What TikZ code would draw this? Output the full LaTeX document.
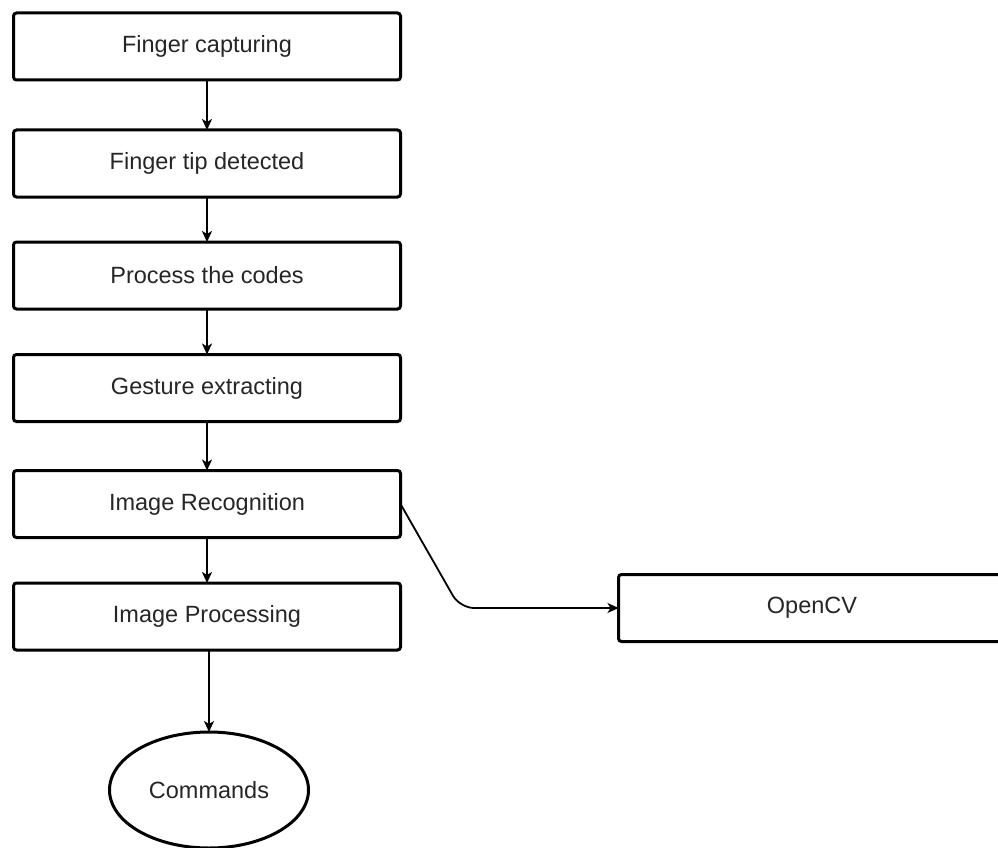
\documentclass[tikz,border=0pt]{standalone}
\usepackage{fontspec}
\setmainfont{Liberation Sans}
\usetikzlibrary{shapes.geometric,arrows.meta}
\begin{document}
\begin{tikzpicture}[x=1pt,y=-1pt,
  stepbox/.style={draw=black, line width=3pt, rounded corners=3pt, minimum width=387pt, minimum height=67pt, inner sep=0pt, outer sep=0pt, text=black!85, font=\fontsize{23.5}{28}\selectfont},
  endnode/.style={draw=black, line width=3pt, ellipse, minimum width=199pt, minimum height=116pt, inner sep=0pt, outer sep=0pt, text=black!85, font=\fontsize{23.5}{28}\selectfont},
  flow/.style={draw=black, line width=1.8pt, -{Stealth[length=11pt,width=10pt,inset=3pt]}}
]
\clip (0,0) rectangle (998,848);
\useasboundingbox (0,0) rectangle (998,848);
\fill[white] (0,0) rectangle (998,848);
\node[stepbox] (b1) at (207,46.5) {Finger capturing};
\node[stepbox] (b2) at (207,163.5) {Finger tip detected};
\node[stepbox] (b3) at (207,275.5) {Process the codes};
\node[stepbox] (b4) at (207,388) {Gesture extracting};
\node[stepbox] (b5) at (207,504) {Image Recognition};
\node[stepbox] (b6) at (207,616.5) {Image Processing};
\node[endnode] (cmd) at (209,790) {Commands};
\node[stepbox] (ocv) at (812,608) {OpenCV};
\coordinate (bend) at (460,608);
\draw[flow] (b1.south) -- (b2.north);
\draw[flow] (b2.south) -- (b3.north);
\draw[flow] (b3.south) -- (b4.north);
\draw[flow] (b4.south) -- (b5.north);
\draw[flow] (b5.south) -- (b6.north);
\draw[flow] (b6.south -| cmd.north) -- (cmd.north);
\draw[flow, rounded corners=14pt] (b5.east) -- (bend) -- (ocv.west);
\end{tikzpicture}
\end{document}
